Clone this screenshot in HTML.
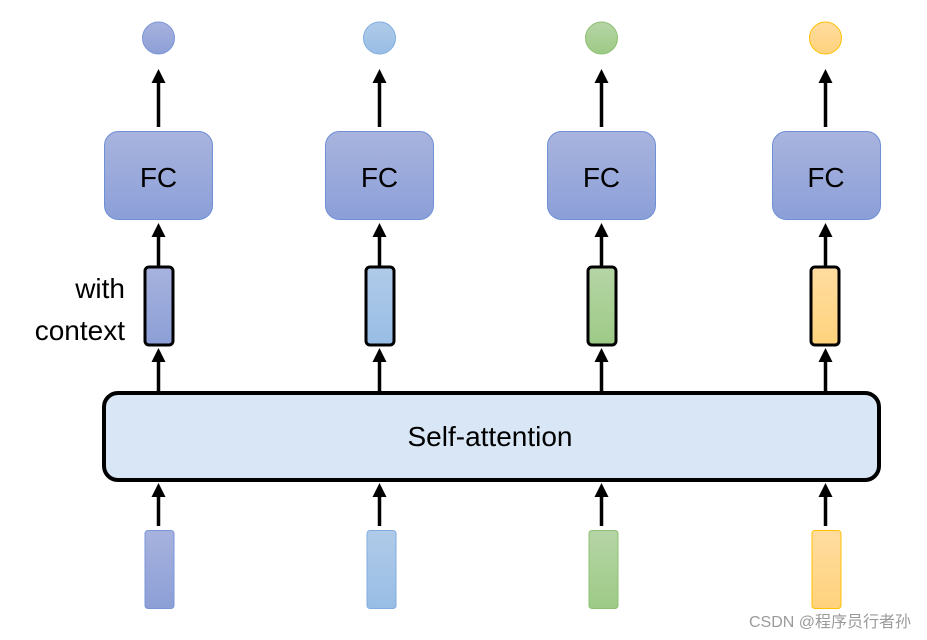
<!DOCTYPE html>
<html><head><meta charset="utf-8"><style>
html,body{margin:0;padding:0;background:#fff;}
svg{display:block;}
text{font-family:"Liberation Sans","Noto Sans CJK SC",sans-serif;}
</style></head><body>
<svg width="927" height="640" viewBox="0 0 927 640" xmlns="http://www.w3.org/2000/svg">
<defs>
<linearGradient id="fc" x1="0" y1="0" x2="0" y2="1"><stop offset="0" stop-color="#a9b4de"/><stop offset="1" stop-color="#8b9fd8"/></linearGradient>
<linearGradient id="c1" x1="0" y1="0" x2="0" y2="1"><stop offset="0" stop-color="#a7b2de"/><stop offset="1" stop-color="#8c9fd6"/></linearGradient>
<linearGradient id="c2" x1="0" y1="0" x2="0" y2="1"><stop offset="0" stop-color="#b0cbe8"/><stop offset="1" stop-color="#98bde6"/></linearGradient>
<linearGradient id="c3" x1="0" y1="0" x2="0" y2="1"><stop offset="0" stop-color="#b6d5a6"/><stop offset="1" stop-color="#9dca86"/></linearGradient>
<linearGradient id="c4" x1="0" y1="0" x2="0" y2="1"><stop offset="0" stop-color="#ffdca0"/><stop offset="1" stop-color="#ffd27c"/></linearGradient>
<marker id="ah" markerWidth="4" markerHeight="4" refX="2" refY="2" orient="auto" markerUnits="strokeWidth">
<path d="M0,0 L4,2 L0,4 z" fill="#000"/></marker>
</defs>
<g id="cols">
</g>
<!-- Column 1 -->
<g>
<circle cx="158.5" cy="38" r="16" fill="url(#c1)" stroke="#7a95d8" stroke-width="1"/>
<line x1="158.5" y1="127" x2="158.5" y2="76" stroke="#000" stroke-width="3.5" marker-end="url(#ah)"/>
<rect x="104.5" y="131.5" width="108" height="88" rx="14" fill="url(#fc)" stroke="#6e90d6" stroke-width="1"/>
<text x="158.5" y="187" font-size="28" text-anchor="middle">FC</text>
<line x1="158.5" y1="266" x2="158.5" y2="230" stroke="#000" stroke-width="3.5" marker-end="url(#ah)"/>
<rect x="145" y="267" width="28" height="78" rx="4" fill="url(#c1)" stroke="#000" stroke-width="3"/>
<line x1="158.5" y1="391" x2="158.5" y2="355" stroke="#000" stroke-width="3.5" marker-end="url(#ah)"/>
<line x1="158.5" y1="526" x2="158.5" y2="490" stroke="#000" stroke-width="3.5" marker-end="url(#ah)"/>
<rect x="145" y="530.5" width="29" height="78" rx="3" fill="url(#c1)" stroke="#7a95d8" stroke-width="1"/>
</g>
<!-- Column 2 -->
<g>
<circle cx="379.5" cy="38" r="16" fill="url(#c2)" stroke="#80aee0" stroke-width="1"/>
<line x1="379.5" y1="127" x2="379.5" y2="76" stroke="#000" stroke-width="3.5" marker-end="url(#ah)"/>
<rect x="325.5" y="131.5" width="108" height="88" rx="14" fill="url(#fc)" stroke="#6e90d6" stroke-width="1"/>
<text x="379.5" y="187" font-size="28" text-anchor="middle">FC</text>
<line x1="379.5" y1="266" x2="379.5" y2="230" stroke="#000" stroke-width="3.5" marker-end="url(#ah)"/>
<rect x="366" y="267" width="28" height="78" rx="4" fill="url(#c2)" stroke="#000" stroke-width="3"/>
<line x1="379.5" y1="391" x2="379.5" y2="355" stroke="#000" stroke-width="3.5" marker-end="url(#ah)"/>
<line x1="379.5" y1="526" x2="379.5" y2="490" stroke="#000" stroke-width="3.5" marker-end="url(#ah)"/>
<rect x="367" y="530.5" width="29" height="78" rx="3" fill="url(#c2)" stroke="#80aee0" stroke-width="1"/>
</g>
<!-- Column 3 -->
<g>
<circle cx="601.5" cy="38" r="16" fill="url(#c3)" stroke="#8cc072" stroke-width="1"/>
<line x1="601.5" y1="127" x2="601.5" y2="76" stroke="#000" stroke-width="3.5" marker-end="url(#ah)"/>
<rect x="547.5" y="131.5" width="108" height="88" rx="14" fill="url(#fc)" stroke="#6e90d6" stroke-width="1"/>
<text x="601.5" y="187" font-size="28" text-anchor="middle">FC</text>
<line x1="601.5" y1="266" x2="601.5" y2="230" stroke="#000" stroke-width="3.5" marker-end="url(#ah)"/>
<rect x="588" y="267" width="28" height="78" rx="4" fill="url(#c3)" stroke="#000" stroke-width="3"/>
<line x1="601.5" y1="391" x2="601.5" y2="355" stroke="#000" stroke-width="3.5" marker-end="url(#ah)"/>
<line x1="601.5" y1="526" x2="601.5" y2="490" stroke="#000" stroke-width="3.5" marker-end="url(#ah)"/>
<rect x="589" y="530.5" width="29" height="78" rx="3" fill="url(#c3)" stroke="#8cc072" stroke-width="1"/>
</g>
<!-- Column 4 -->
<g>
<circle cx="825.5" cy="38" r="16" fill="url(#c4)" stroke="#ffc000" stroke-width="1"/>
<line x1="825.5" y1="127" x2="825.5" y2="76" stroke="#000" stroke-width="3.5" marker-end="url(#ah)"/>
<rect x="772.5" y="131.5" width="108" height="88" rx="14" fill="url(#fc)" stroke="#6e90d6" stroke-width="1"/>
<text x="826" y="187" font-size="28" text-anchor="middle">FC</text>
<line x1="825.5" y1="266" x2="825.5" y2="230" stroke="#000" stroke-width="3.5" marker-end="url(#ah)"/>
<rect x="811" y="267" width="28" height="78" rx="4" fill="url(#c4)" stroke="#000" stroke-width="3"/>
<line x1="825.5" y1="391" x2="825.5" y2="355" stroke="#000" stroke-width="3.5" marker-end="url(#ah)"/>
<line x1="825.5" y1="526" x2="825.5" y2="490" stroke="#000" stroke-width="3.5" marker-end="url(#ah)"/>
<rect x="812" y="530.5" width="29" height="78" rx="3" fill="url(#c4)" stroke="#ffc000" stroke-width="1"/>
</g>
<!-- Self-attention -->
<rect x="104" y="393" width="775" height="87" rx="14" fill="#d8e6f5" stroke="#000" stroke-width="4"/>
<text x="490" y="446" font-size="28" text-anchor="middle">Self-attention</text>
<!-- labels -->
<text x="125" y="298" font-size="28" text-anchor="end">with</text>
<text x="125" y="340" font-size="28" text-anchor="end">context</text>
<text x="911" y="627" font-size="16" fill="#9a9a9a" text-anchor="end">CSDN @程序员行者孙</text>
</svg>
</body></html>
